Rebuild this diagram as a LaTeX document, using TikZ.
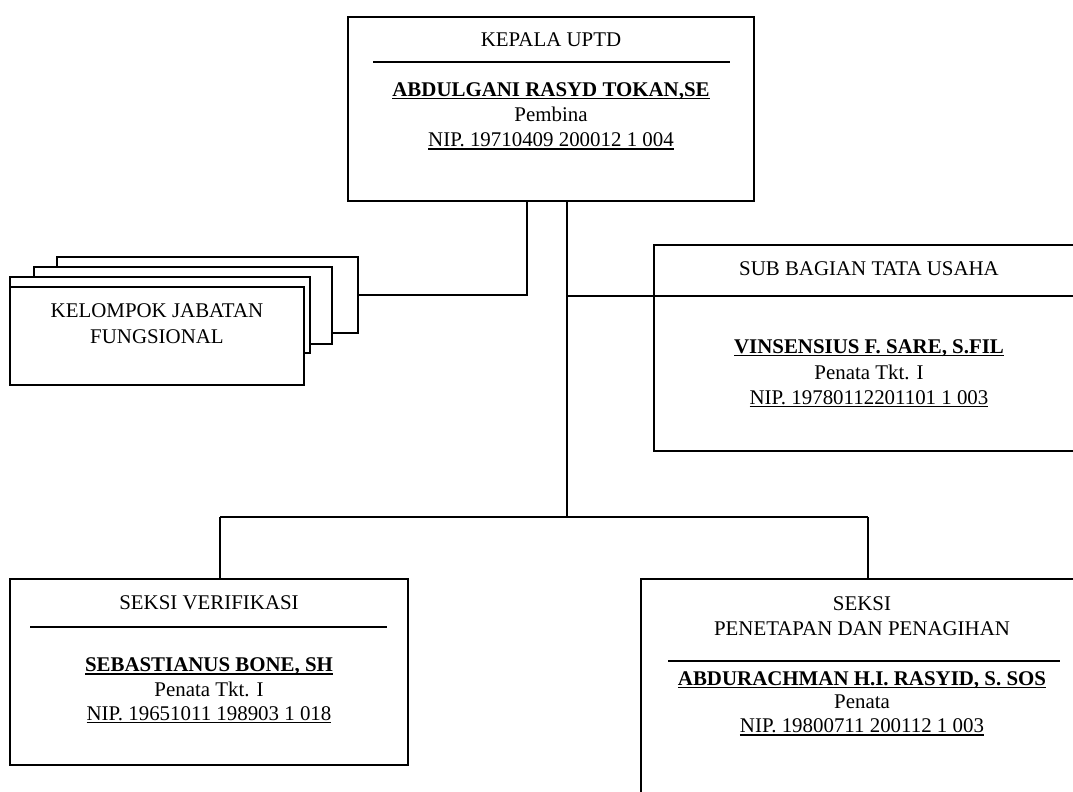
\documentclass[tikz,border=0pt]{standalone}
\usepackage{fontspec}
\setmainfont{Liberation Serif}
\newcommand\myul[1]{\setbox0\hbox{#1}\rlap{\raisebox{-3pt}{\rule{\wd0}{1.4pt}}}\box0}
\begin{document}
\begin{tikzpicture}[x=1pt,y=-1pt, line width=1.8pt,
  box/.style={draw, fill=white, rectangle, inner sep=0pt, outer sep=0pt, anchor=north west},
  txt/.style={anchor=base, inner sep=0pt, font=\fontsize{20.9pt}{24pt}\selectfont},
  btxt/.style={anchor=base, inner sep=0pt, font=\fontsize{20.9pt}{24pt}\selectfont\bfseries}]
\useasboundingbox (0,0) rectangle (1073,792);
\clip (0,0) rectangle (1073,792);

% stacked boxes
\node[box, minimum width=301pt, minimum height=76pt] (kel1) at (57,257) {};
\node[box, minimum width=298pt, minimum height=77pt] (kel2) at (34,267) {};
\node[box, minimum width=300pt, minimum height=76pt] (kel3) at (10,277) {};
\node[box, minimum width=294pt, minimum height=98pt] (kel) at (10,287) {};
\node[txt] (kel-a) at (157,317) {KELOMPOK JABATAN};
\node[txt] (kel-b) at (157,343) {FUNGSIONAL};

% top box
\node[box, minimum width=406pt, minimum height=184pt] (kepala) at (348,17) {};
\node[txt] (kepala-t) at (551,47) {KEPALA UPTD};
\draw (373,62) -- (730,62);
\node[btxt] (kepala-n) at (551,96) {\myul{ABDULGANI RASYD TOKAN,SE}};
\node[txt] (kepala-g) at (551,121) {Pembina};
\node[txt] (kepala-nip) at (551,146.5) {\myul{NIP. 19710409 200012 1 004}};

% right box
\node[box, minimum width=430pt, minimum height=206pt] (tu) at (654,245) {};
\node[txt] (tu-t) at (869,275) {SUB BAGIAN TATA USAHA};
\coordinate (tud) at (654,296);
\draw (tud) -- (1090,296);
\node[btxt] (tu-n) at (869,353) {\myul{VINSENSIUS F. SARE, S.FIL}};
\node[txt] (tu-g) at (869,379) {Penata Tkt. I};
\node[txt] (tu-nip) at (869,404) {\myul{NIP. 19780112201101 1 003}};

% bottom left box
\node[box, minimum width=398pt, minimum height=186pt] (verif) at (10,579) {};
\node[txt] (verif-t) at (209,609) {SEKSI VERIFIKASI};
\draw (30,627) -- (387,627);
\node[btxt] (verif-n) at (209,671.5) {\myul{SEBASTIANUS BONE, SH}};
\node[txt] (verif-g) at (209,696) {Penata Tkt. I};
\node[txt] (verif-nip) at (209,720) {\myul{NIP. 19651011 198903 1 018}};

% bottom right box
\node[box, minimum width=442pt, minimum height=260pt] (pp) at (641,579) {};
\node[txt] (pp-t1) at (862,610.5) {SEKSI};
\node[txt] (pp-t2) at (862,635) {PENETAPAN DAN PENAGIHAN};
\draw (668,661) -- (1060,661);
\node[btxt] (pp-n) at (862,685) {\myul{ABDURACHMAN H.I. RASYID, S. SOS}};
\node[txt] (pp-g) at (862,708.5) {Penata};
\node[txt] (pp-nip) at (862,732.5) {\myul{NIP. 19800711 200112 1 003}};

% connectors
\coordinate (k1) at (527,201);
\coordinate (k2) at (567,201);
\coordinate (bus) at (567,517);
\coordinate (bl) at (220,517);
\coordinate (br) at (868,517);
\draw (k1) |- (kel1.east);
\draw (k2) -- (bus);
\draw (k2 |- tud) -- (tud);
\draw (bl) -- (br);
\draw (bl) -- (bl |- verif.north);
\draw (br) -- (br |- pp.north);
\end{tikzpicture}
\end{document}
